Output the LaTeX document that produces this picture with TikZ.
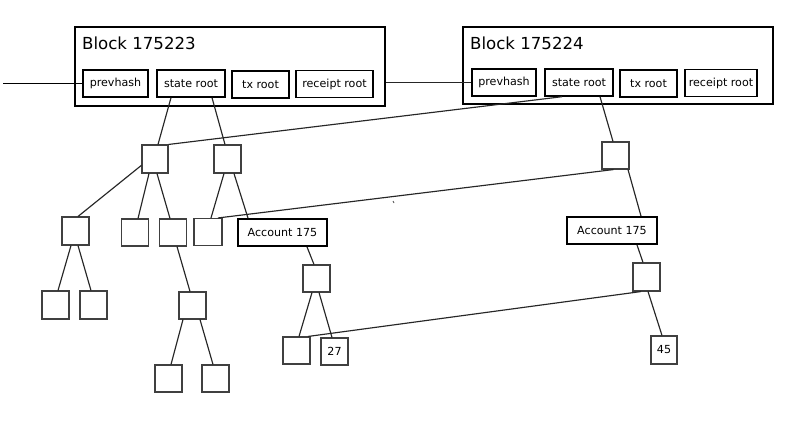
\documentclass[tikz,border=0pt]{standalone}
\usepackage{fontspec}
\setmainfont{DejaVu Sans}
\usetikzlibrary{calc}
\begin{document}
\begin{tikzpicture}[x=1bp,y=-1bp,
  blockbox/.style={draw=black,line width=1.8bp,inner sep=0pt,minimum width=310bp},
  title/.style={anchor=west,inner sep=0pt,font=\fontsize{16.6bp}{20bp}\selectfont},
  field/.style={draw=black,line width=1.4bp,inner sep=0pt,minimum height=27bp,font=\fontsize{11.1bp}{13bp}\selectfont},
  acct/.style={draw=black,line width=1.8bp,inner sep=0pt,minimum height=27bp,font=\fontsize{11.1bp}{13bp}\selectfont},
  sq/.style={draw=black!75,line width=1.1bp,inner sep=0pt,minimum width=27bp,minimum height=27bp,font=\fontsize{11.1bp}{13bp}\selectfont},
  conn/.style={draw=black!85,line width=1.15bp}]
\useasboundingbox (0,0) rectangle (791,426);
\fill[white] (0,0) rectangle (791,426);

% blocks
\node[blockbox,minimum height=79bp] (blk1) at (230,66.5) {};
\node[title] (t1) at (82,43) {Block 175223};
\node[field,minimum width=65bp] (pv1) at (115.5,83.5) {prevhash};
\node[field,minimum width=68bp] (sr1) at (191,83.5) {state root};
\node[field,minimum width=57bp] (tx1) at (260.5,84.5) {tx root};
\node[field,minimum width=77bp] (rr1) at (334.5,84) {receipt root};

\node[blockbox,minimum height=77bp] (blk2) at (618,65.5) {};
\node[title] (t2) at (470,43) {Block 175224};
\node[field,minimum width=64bp] (pv2) at (504,82.5) {prevhash};
\node[field,minimum width=68bp] (sr2) at (579,82.5) {state root};
\node[field,minimum width=57bp] (tx2) at (648.5,83.5) {tx root};
\node[field,minimum width=72bp] (rr2) at (721,83) {receipt root};

% tree nodes
\node[sq,minimum width=26bp,minimum height=28bp] (A) at (155,159) {};
\node[sq,minimum height=28bp] (B) at (227.5,159) {};
\node[sq] (C) at (615.5,155.5) {};
\node[sq,minimum height=28bp] (E) at (75.5,231) {};
\node[sq] (F) at (135,232.5) {};
\node[sq] (G) at (173,232.5) {};
\node[sq,minimum width=28bp] (D) at (208,232) {};
\node[acct,minimum width=89bp] (ac1) at (282.5,232.5) {Account 175};
\node[sq] (H) at (316.5,278.5) {};
\node[sq] (I) at (296.5,350.5) {};
\node[sq] (n27) at (334.5,351.5) {27};
\node[sq] (J) at (192.5,305.5) {};
\node[sq] (K) at (168.5,378.5) {};
\node[sq] (L) at (215.5,378.5) {};
\node[sq,minimum height=28bp] (M) at (55.5,305) {};
\node[sq,minimum height=28bp] (N) at (93.5,305) {};
\node[acct,minimum width=90bp] (ac2) at (612,230.5) {Account 175};
\node[sq,minimum height=28bp] (O) at (646.5,277) {};
\node[sq,minimum width=26bp,minimum height=28bp] (n45) at (664,350) {45};

% chain links
\coordinate (in) at (3,83.5);
\draw[line width=1.5bp] (in) -- (pv1.west);
\draw[conn] (pv2.west -| blk1.east) -- (pv2.west);

% connectors
\draw[conn] ($(sr1.south)+(-20,0)$) -- ($(A.north)+(3,0)$);
\draw[conn] ($(sr1.south)+(21,0)$) -- ($(B.north)+(-2.5,0)$);
\draw[conn] (A.north east) -- ($(sr2.south)+(-17,0)$);
\draw[conn] ($(sr2.south)+(21,0)$) -- ($(C.north)+(-2.5,0)$);
\draw[conn] ($(C.south)+(-2,0)$) -- ($(D.north)+(10,0)$);
\draw[conn] ($(C.south)+(12.5,0)$) -- ($(ac2.north)+(29,0)$);
\draw[conn] ($(ac2.south)+(25,0)$) -- ($(O.north)+(-3.5,0)$);
\draw[conn] ($(O.south)+(1.5,0)$) -- ($(n45.north)+(-2,0)$);
\draw[conn] ($(O.south)+(-5.5,0)$) -- ($(I.north)+(11.5,0)$);

\draw[conn] (A.205) -- ($(E.north)+(2.5,0)$);
\draw[conn] ($(A.south)+(-6,0)$) -- ($(F.north)+(3,0)$);
\draw[conn] ($(A.south)+(2,0)$) -- ($(G.north)+(-3,0)$);
\draw[conn] ($(B.south)+(-3.5,0)$) -- ($(D.north)+(3,0)$);
\draw[conn] ($(B.south)+(6.5,0)$) -- ($(ac1.north)+(-34.5,0)$);
\draw[conn] ($(ac1.south)+(24.5,0)$) -- ($(H.north)+(-2.5,0)$);
\draw[conn] ($(H.south)+(-4.5,0)$) -- ($(I.north)+(2.5,0)$);
\draw[conn] ($(H.south)+(2.5,0)$) -- ($(n27.north)+(-2.5,0)$);
\draw[conn] ($(G.south)+(4,0)$) -- ($(J.north)+(-2.5,0)$);
\draw[conn] ($(J.south)+(-9.5,0)$) -- ($(K.north)+(2.5,0)$);
\draw[conn] ($(J.south)+(7.5,0)$) -- ($(L.north)+(-2.5,0)$);
\draw[conn] ($(E.south)+(-4.5,0)$) -- ($(M.north)+(2.5,0)$);
\draw[conn] ($(E.south)+(2.5,0)$) -- ($(N.north)+(-2.5,0)$);

% small stray mark
\draw[black!70,line width=0.8bp] (393,201) -- (394,203);
\end{tikzpicture}
\end{document}
